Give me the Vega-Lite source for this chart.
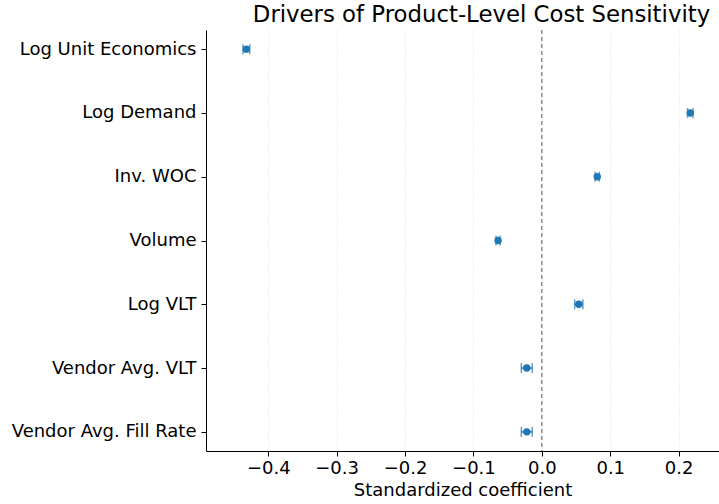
{
  "$schema": "https://vega.github.io/schema/vega-lite/v6.json",
  "autosize": "none",
  "width": 513,
  "height": 421,
  "padding": {"left": 206, "top": 30, "right": 0, "bottom": 53},
  "background": "white",
  "config": {
    "view": {"stroke": null},
    "font": "DejaVu Sans"
  },
  "title": {
    "text": "Drivers of Product-Level Cost Sensitivity",
    "fontSize": 22.8,
    "fontWeight": "normal",
    "color": "black",
    "font": "DejaVu Sans",
    "anchor": "middle",
    "offset": 3,
    "dx": 19
  },
  "data": {
    "values": [
      {"term": "Log Unit Economics", "coef": -0.432, "lo": -0.437, "hi": -0.427},
      {"term": "Log Demand", "coef": 0.217, "lo": 0.213, "hi": 0.221},
      {"term": "Inv. WOC", "coef": 0.081, "lo": 0.078, "hi": 0.084},
      {"term": "Volume", "coef": -0.064, "lo": -0.067, "hi": -0.061},
      {"term": "Log VLT", "coef": 0.054, "lo": 0.048, "hi": 0.060},
      {"term": "Vendor Avg. VLT", "coef": -0.022, "lo": -0.030, "hi": -0.014},
      {"term": "Vendor Avg. Fill Rate", "coef": -0.022, "lo": -0.030, "hi": -0.014}
    ]
  },
  "encoding": {
    "y": {
      "field": "term",
      "type": "nominal",
      "sort": null,
      "scale": {"type": "point", "padding": 0.3},
      "axis": {
        "title": null,
        "labelFontSize": 18,
        "labelColor": "black",
        "labelPadding": 5,
        "labelLimit": 400,
        "tickColor": "black",
        "tickSize": 5,
        "domainColor": "black",
        "domainWidth": 1,
        "grid": false,
        "labelFont": "DejaVu Sans"
      }
    }
  },
  "layer": [
    {
      "data": {"values": [{"z": 0}]},
      "mark": {"type": "rule", "color": "#555555", "strokeDash": [4, 3], "strokeWidth": 1},
      "encoding": {
        "x": {"field": "z", "type": "quantitative"},
        "y": null
      }
    },
    {
      "mark": {"type": "rule", "color": "#1f77b4", "strokeWidth": 1.5},
      "encoding": {
        "x": {
          "field": "lo",
          "type": "quantitative",
          "scale": {"domain": [-0.491, 0.259], "nice": false, "zero": false},
          "axis": {
            "title": "Standardized coefficient",
            "titleFontSize": 18,
            "titleFontWeight": "normal",
            "titleColor": "black",
            "titlePadding": 4,
            "titleFont": "DejaVu Sans",
            "values": [-0.4, -0.3, -0.2, -0.1, 0.0, 0.1, 0.2],
            "format": ".1f",
            "labelFontSize": 18,
            "labelColor": "black",
            "labelFont": "DejaVu Sans",
            "labelPadding": 3,
            "tickColor": "black",
            "tickSize": 5,
            "domainColor": "black",
            "grid": true,
            "gridColor": "#d8d8d8",
            "gridDash": [1, 2],
            "gridWidth": 0.8
          }
        },
        "x2": {"field": "hi"}
      }
    },
    {
      "mark": {"type": "tick", "color": "#1f77b4", "thickness": 1.5, "size": 10, "orient": "vertical"},
      "encoding": {"x": {"field": "lo", "type": "quantitative"}}
    },
    {
      "mark": {"type": "tick", "color": "#1f77b4", "thickness": 1.5, "size": 10, "orient": "vertical"},
      "encoding": {"x": {"field": "hi", "type": "quantitative"}}
    },
    {
      "mark": {"type": "point", "filled": true, "color": "#1f77b4", "opacity": 1, "size": 55},
      "encoding": {"x": {"field": "coef", "type": "quantitative"}}
    }
  ]
}
